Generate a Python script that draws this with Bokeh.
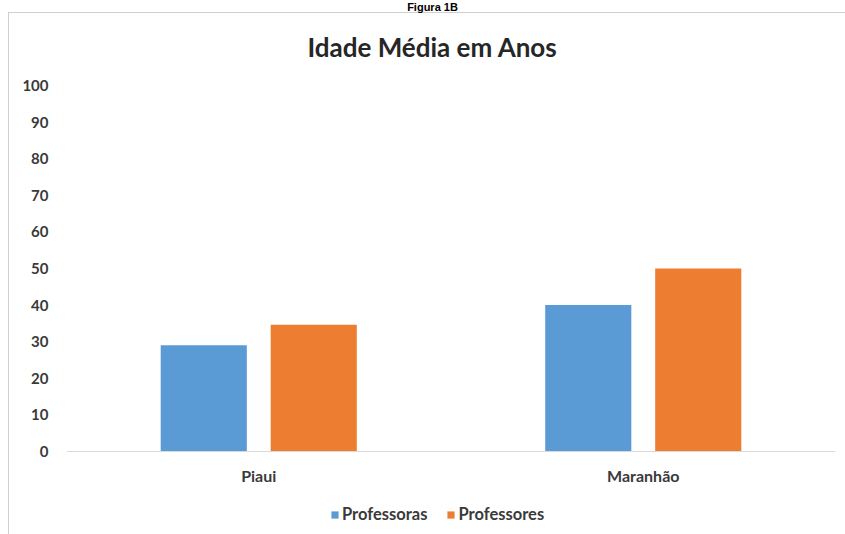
from bokeh.plotting import figure
from bokeh.models import (ColumnDataSource, Legend, LegendItem, FactorRange,
                          Range1d, FixedTicker, Label)
from bokeh.transform import dodge
from bokeh.embed import file_html
from bokeh.resources import INLINE

# ---- data ----
categories = ["Piaui", "Maranhão"]
professoras = [29, 40]
professores = [34.6, 50]
y_ticks = [0, 10, 20, 30, 40, 50, 60, 70, 80, 90, 100]
series_names = ["Professoras", "Professores"]
chart_title = "Idade Média em Anos"
figure_caption = "Figura 1B"

BLUE = "#5B9BD5"
ORANGE = "#ED7D31"
TEXT = "#3A3A3A"
FONT = "Lato"

# ---- layout geometry (pixels) ----
W, H = 845, 534
FRAME_L, FRAME_R = 66, 835        # plot area left / right
PX_100, PX_0 = 85, 451            # where 100 and 0 sit on the value axis
unit = (PX_0 - PX_100) / 100.0    # pixels per year
cat_px = (FRAME_R - FRAME_L) / len(categories)

def y_at(px):
    return (PX_0 - px) / unit

def x_at(px):
    return (px - FRAME_L) / cat_px

p = figure(x_range=FactorRange(*categories, range_padding=0),
           y_range=Range1d(y_at(H), y_at(0)),
           width=W, height=H, output_backend="svg", toolbar_location=None,
           min_border_left=FRAME_L, min_border_right=W - FRAME_R,
           min_border_top=0, min_border_bottom=0)

src = ColumnDataSource(dict(cat=categories, professoras=professoras, professores=professores))
r1 = p.vbar(x=dodge("cat", -0.143, range=p.x_range), top="professoras", bottom=0,
            width=0.224, source=src, fill_color=BLUE, line_color=None)
r2 = p.vbar(x=dodge("cat", 0.143, range=p.x_range), top="professores", bottom=0,
            width=0.224, source=src, fill_color=ORANGE, line_color=None)

p.xgrid.grid_line_color = None
p.ygrid.grid_line_color = None
p.outline_line_color = None
p.background_fill_alpha = 0
p.border_fill_alpha = 0
# thin gray chart-area border lines (top and left), drawn as the page background
p.styles = {"background": "linear-gradient(#CFCFCF,#CFCFCF) 8px 12px / 837px 1px no-repeat, "
                          "linear-gradient(#CFCFCF,#CFCFCF) 8px 12px / 1px 522px no-repeat, white"}

# y axis
p.yaxis.ticker = FixedTicker(ticks=y_ticks)
p.yaxis.axis_line_color = None
p.yaxis.major_tick_line_color = None
p.yaxis.minor_tick_line_color = None
p.yaxis.major_tick_out = 0
p.yaxis.major_tick_in = 0
p.yaxis.major_label_standoff = 18
p.yaxis.major_label_text_font = FONT
p.yaxis.major_label_text_font_style = "bold"
p.yaxis.major_label_text_font_size = "15px"
p.yaxis.major_label_text_color = TEXT

# x axis, pinned at value 0
p.xaxis.fixed_location = 0
p.xaxis.axis_line_color = "#D9D9D9"
p.xaxis.axis_line_width = 1
p.xaxis.major_tick_line_color = None
p.xaxis.minor_tick_line_color = None
p.xaxis.major_tick_out = 0
p.xaxis.major_tick_in = 0
p.xaxis.major_label_standoff = 14
p.xaxis.major_label_text_font = FONT
p.xaxis.major_label_text_font_style = "bold"
p.xaxis.major_label_text_font_size = "16px"
p.xaxis.major_label_text_color = TEXT

# titles
p.add_layout(Label(x=x_at(432), y=y_at(46), text=chart_title,
                   text_align="center", text_baseline="middle", text_font=FONT,
                   text_font_style="bold", text_font_size="26px", text_color="#262626"))
p.add_layout(Label(x=x_at(432), y=y_at(0), text=figure_caption,
                   text_align="center", text_baseline="top", text_font="Liberation Sans",
                   text_font_style="bold", text_font_size="11px", text_color="#000000"))

legend = Legend(items=[LegendItem(label=series_names[0], renderers=[r1]),
                       LegendItem(label=series_names[1], renderers=[r2])],
                orientation="horizontal", location=(330 - FRAME_L, 10),
                glyph_width=9, glyph_height=9, label_standoff=3, spacing=19,
                padding=0, margin=0, label_height=18,
                border_line_color=None, background_fill_alpha=0,
                label_text_font=FONT, label_text_font_style="bold",
                label_text_font_size="16.5px", label_text_color=TEXT)
p.add_layout(legend, "center")

open("out.html", "w").write(file_html(p, INLINE))
